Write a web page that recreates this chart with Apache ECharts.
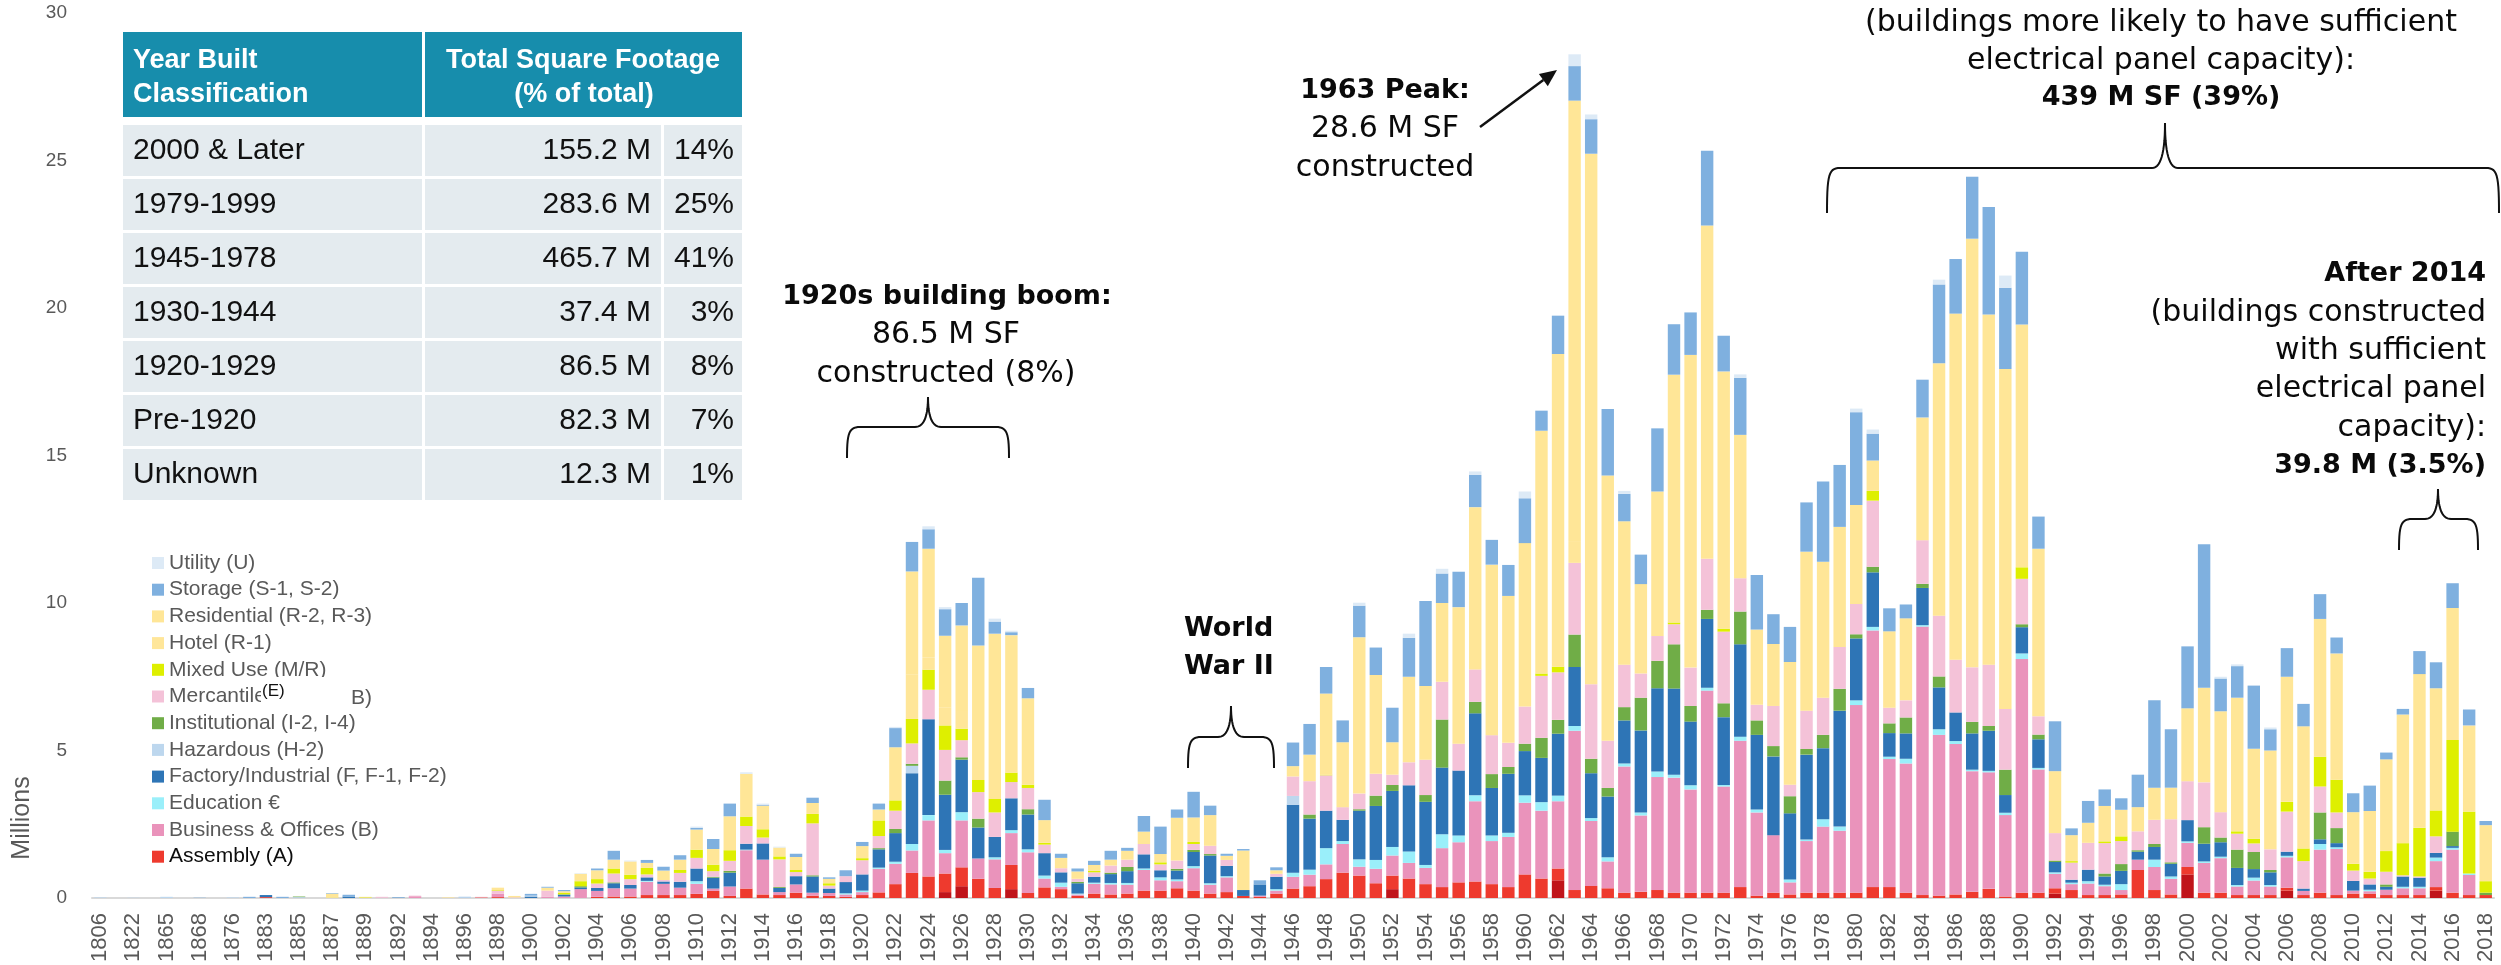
<!DOCTYPE html>
<html>
<head>
<meta charset="utf-8">
<script src="https://cdn.jsdelivr.net/npm/echarts@6.0.0/dist/echarts.min.js"></script>
<style>
  html, body { margin: 0; padding: 0; background: #ffffff; }
  #chart { width: 2501px; height: 965px; }
</style>
</head>
<body>
<div id="chart"></div>
<script>
// Year-built categories (x axis)
const categories = [
  '1806','1812','1822','1850','1865','1867','1868','1872','1876','1880',
  '1883','1884','1885','1886','1887','1888','1889','1890','1892','1893',
  '1894','1895','1896','1897','1898','1899','1900','1901','1902','1903',
  '1904','1905','1906','1907','1908','1909','1910','1911','1912','1913',
  '1914','1915','1916','1917','1918','1919','1920','1921','1922','1923',
  '1924','1925','1926','1927','1928','1929','1930','1931','1932','1933',
  '1934','1935','1936','1937','1938','1939','1940','1941','1942','1943',
  '1944','1945','1946','1947','1948','1949','1950','1951','1952','1953',
  '1954','1955','1956','1957','1958','1959','1960','1961','1962','1963',
  '1964','1965','1966','1967','1968','1969','1970','1971','1972','1973',
  '1974','1975','1976','1977','1978','1979','1980','1981','1982','1983',
  '1984','1985','1986','1987','1988','1989','1990','1991','1992','1993',
  '1994','1995','1996','1997','1998','1999','2000','2001','2002','2003',
  '2004','2005','2006','2007','2008','2009','2010','2011','2012','2013',
  '2014','2015','2016','2017','2018'
];

// Square footage by occupancy type, millions of SF per year
const assemblyDark = [
  0,0,0,0,0,0,0,0,0,0, 0,0,0,0,0,0,0,0,0,0, 0,0,0,0,0,0,0,0,0,0, 0,0,0,0,0,0,0,0,0,0,
  0,0,0,0,0,0,0,0,0,0, 0,.2,.4,0,0,.3,0,0,0,0, 0,0,0,0,0,0,0,0,0,0, 0,0,0,0,0,0,0,0,.3,0,
  0,0,0,0,0,0,0,0,.6,0, 0,0,0,0,0,0,0,0,0,0, 0,0,0,0,0,0,0,0,0,0, 0,0,0,0,0,0,0,0,.15,0,
  0,0,0,0,0,0,.8,0,0,0, 0,0,.25,0,0,0,0,0,0,0, 0,.25,0,0,0
];
const assembly = [
  0,0,0,0,0,0,0,0,0,0, .03,0,0,0,0,0,0,0,0,0, 0,0,0,.02,.03,0,0,0,0,0, .04,.05,.05,.1,.1,.1,.14,.24,.07,.32,
  .12,.1,.18,.08,.07,.04,.1,.19,.47,.85, .73,.63,.64,.65,.34,.82,.17,.36,.3,.07, .15,.12,.15,.25,.25,.33,.25,.15,.2,.07, .04,.15,.32,.4,.64,.86,.76,.5,.46,.66,
  .47,.37,.53,.56,.47,.37,.8,.66,.4,.27, .41,.33,.18,.21,.27,.18,.18,.18,.18,.37, .08,.18,.12,.18,.18,.18,.18,.37,.37,.18, .1,.08,.12,.21,.31,.05,.18,.18,.18,.27,
  .1,.1,.12,.95,.27,.12,.25,.18,.18,.1, .1,.1,.1,.1,.18,.1,.15,.15,.1,.1, .1,.12,.18,.1,.1
];
const business = [
  0,0,0,0,0,0,0,0,0,0, 0,0,0,0,0,0,0,.01,0,.06, 0,0,0,0,.12,0,0,.05,.05,.3, .2,.28,.27,.45,.38,.25,.34,.08,.32,1.3,
  1.18,.1,.28,.1,.1,.08,.1,.8,.69,.76, 1.9,.69,1.59,.69,.97,1.08,1.38,.3,.08,.05, .33,.34,.3,.7,.35,.24,.76,.3,.5,0, .04,.1,.4,.39,.5,.97,.3,.49,.68,.53,
  .55,1.32,1.36,2.72,1.46,1.7,2.43,2.3,2.28,5.4, 2.2,.91,4.28,2.59,3.83,3.9,3.5,6.85,3.6,4.96, 2.82,1.95,.41,1.75,2.24,2.1,6.36,8.7,4.34,4.38, 9.1,5.45,5.1,4.09,3.95,2.76,7.92,4.18,.49,.2,
  .39,.3,.15,.35,.78,.53,.82,1.01,1.17,.29, .49,.29,1.03,.14,1.46,1.56,.1,.08,.18,.23, .23,.88,1.46,.68,0
];
const education = [
  0,0,0,0,0,0,0,0,0,0, 0,0,0,0,0,0,0,0,0,0, 0,0,0,0,0,0,0,0,0,0, 0,0,0,.03,0,0,.09,0,0,.02,
  0,0,0,0,0,.04,.05,.04,.07,.22, .18,.11,.28,0,.07,.1,.1,.1,.14,.03, .04,.05,.06,.05,.1,.06,.07,.05,.04,0, 0,.05,.14,.17,.55,.1,.25,.3,.29,.39,
  .1,.47,.23,.2,.19,.14,.25,.29,.19,.16, .1,.14,.1,.1,.19,.1,.14,.1,.05,.14, .1,0,.1,.05,.25,.14,.16,.12,.08,.16, .05,.19,.1,.05,.05,.08,.19,.05,.05,.05,
  .08,.05,.2,0,.25,.08,.05,.05,.05,.05, .1,.05,.05,0,.19,.06,0,.05,0,.05, .05,.12,.06,.05,0
];
const factory = [
  0,0,0,0,0,0,0,0,0,0, .07,0,0,0,0,.05,0,0,.01,0, 0,0,0,0,0,0,.05,0,.07,.06, .1,.17,.12,.12,.08,.2,.43,.37,.47,.2,
  .55,.14,.28,.55,.15,.38,.55,.62,.97,2.4, 3.25,1.87,1.78,1.05,.69,1.08,1.18,.76,.35,.35, .2,.3,.4,.48,.24,.3,.48,.94,.35,.2, .38,.42,2.3,1.73,1.27,.72,1.65,1.83,1.9,2.24,
  2.14,2.26,2.2,2.78,1.61,2.0,1.5,1.5,2.1,2.0, 1.52,2.06,1.46,2.78,2.82,2.92,2.16,2.33,2.3,3.13, 2.53,2.67,2.24,2.88,2.41,3.93,2.1,1.85,.8,.86, 1.26,1.42,.97,1.23,1.36,.6,.89,.97,.35,.1,
  .39,.28,.45,.27,.43,.43,.72,.6,.49,.58, .29,.43,.14,.08,.16,.14,.33,.18,.1,.35, .31,.16,.06,0,0
];
const hazardous = [
  .02,0,.01,0,.04,0,0,0,.02,0, 0,0,.03,0,0,0,0,0,0,0, 0,0,.03,0,0,0,.03,0,0,0, 0,0,0,0,0,0,0,0,0,0,
  0,0,0,0,0,0,0,0,0,.25, 0,0,0,0,0,0,0,0,0,0, 0,0,0,0,0,0,0,0,0,0, 0,0,.3,0,0,0,0,0,0,0,
  0,0,0,0,0,0,0,0,0,0, 0,0,0,0,0,0,0,0,0,0, 0,0,0,0,0,0,0,0,0,0, 0,0,0,0,0,0,0,0,0,0,
  0,0,0,0,0,0,0,0,0,0, 0,0,0,0,0,0,0,0,0,0, 0,0,0,0,0
];
const institutional = [
  0,0,0,0,0,0,0,0,0,0, 0,0,.02,0,0,0,0,0,0,0, 0,0,0,0,0,0,0,0,0,.04, 0,.03,0,0,0,0,0,.03,.06,0,
  0,.03,0,.04,0,0,0,.04,.14,.07, 0,.48,.08,.3,0,0,.18,0,0,.05, 0,.05,.14,0,0,.06,.07,.05,0,0, 0,0,0,.14,0,0,.05,.35,.2,0,
  .23,1.63,0,.39,.47,.23,.25,.68,.47,1.1, .49,.29,.45,1.11,.93,1.5,.53,.31,.47,1.11, .49,.35,.58,.19,.45,.74,.14,.19,.33,.54, .14,.37,0,.39,.16,.86,.1,.16,.05,0,
  0,.1,.23,.05,.1,.05,0,.56,.16,.62, .58,.08,0,0,.91,.51,0,0,.08,0, 0,0,.49,0,.08
];
const mercantile = [
  0,0,0,0,0,0,0,0,0,0, 0,0,0,0,0,0,0,.03,0,.02, 0,0,0,.02,.1,.02,0,.2,0,0, .15,.3,.2,.1,.05,.3,.36,.19,.34,.6,
  .2,.94,.14,1.76,.1,.2,.48,.41,.62,.69, 1.0,1.04,.58,.9,.83,.55,.72,.29,.14,.1, .15,.24,.25,.35,.2,.28,.2,.28,.2,0, 0,.1,.66,1.13,1.2,.43,.53,.74,.35,.78,
  1.2,1.28,.91,1.1,1.32,.82,1.26,2.1,1.61,2.43, 2.53,1.6,1.44,.82,.84,.68,1.3,1.73,2.43,1.13, .53,1.36,.39,1.3,1.26,1.42,1.03,2.24,.53,.58, 1.48,2.06,1.79,1.85,2.08,2.06,1.54,.62,.93,.58,
  .91,1.03,.78,.64,.82,1.46,1.32,1.52,.86,.54, .29,.7,1.36,.93,.88,.53,.35,.2,.43,.04, .04,.56,0,0,0
];
const mixedUse = [
  0,0,0,0,0,0,0,0,0,0, 0,0,0,0,.01,0,.02,0,0,0, 0,0,0,0,.02,0,0,0,.05,.17, .15,.17,.15,.22,0,.1,.28,.22,.36,.32,
  .28,.1,.07,.32,.08,0,.07,.53,.35,.83, .68,.83,.39,.41,.46,.32,.11,.06,0,0, .05,0,0,0,.07,0,.07,0,0,0, 0,0,0,0,.02,0,0,0,0,0,
  0,0,0,0,0,0,0,.08,.19,0, 0,0,0,0,0,.06,0,0,.1,0, 0,0,0,0,0,0,0,.33,0,0, 0,0,0,0,0,0,.39,0,0,.05,
  0,.06,.16,0,0,0,0,0,0,.08, .16,0,.33,.43,1.01,1.11,.23,.23,.7,1.09, 1.65,.88,3.11,2.1,.39
];
const hotel = [
  0,0,0,0,0,0,0,0,0,0, 0,0,0,0,0,0,0,0,0,0, 0,0,0,0,0,0,0,0,0,0, 0,0,0,0,0,0,0,0,0,0,
  0,0,0,0,0,0,0,0,0,1.5, .4,.6,.6,0,0,0,0,0,0,0, 0,0,0,0,0,0,0,0,0,0, 0,0,0,0,0,0,0,0,0,0,
  0,0,0,0,0,0,0,0,0,.74, 0,0,0,0,0,0,0,0,0,0, 0,0,0,0,0,0,0,0,0,0, 0,0,0,0,0,0,0,0,0,0,
  0,0,0,0,0,0,0,0,0,0, 0,0,0,0,0,0,0,0,0,0, 0,0,0,0,0
];
const residential = [
  0,0,0,0,0,0,0,0,0,0, 0,0,0,0,.14,0,.02,0,0,0, 0,.02,0,0,.08,.05,0,.1,.06,.25, .3,.3,.45,.17,.32,.35,.68,.53,1.15,1.45,
  .8,.3,.44,.37,.15,0,.41,.37,1.8,3.5, 3.7,2.44,2.9,4.56,5.6,4.66,2.93,.77,.35,.25, .2,.2,.3,.42,.28,1.45,.83,1.04,.14,1.34, 0,.12,.35,.9,2.75,2.2,5.3,3.35,1.1,2.9,
  2.5,2.67,4.63,5.5,5.78,4.98,5.54,8.23,10.6,14.93, 17.98,8.99,4.86,3.03,4.9,8.4,10.6,11.3,8.72,4.86, 2.55,2.1,4.16,5.39,4.61,4.07,3.35,1.03,2.59,2.78, 4.16,8.56,11.73,14.53,11.87,11.52,8.23,5.68,2.1,.88,
  .68,1.2,.9,.82,1.09,1.07,2.47,3.21,3.42,4.53, 3.05,3.35,4.24,4.14,4.67,4.28,1.75,2.06,3.11,4.36, 5.21,4.14,4.47,2.92,1.9
];
const storage = [
  0,0,0,0,0,0,.01,0,0,.04, 0,.04,0,0,.02,.06,0,0,.02,0, 0,0,.01,0,0,0,.06,.03,.04,0, .06,.3,0,.1,.13,.15,.06,.34,.43,0,
  .03,0,.11,.18,.05,.2,.14,.2,.65,1.0, .66,.9,.76,2.3,.41,.1,.35,.69,.14,.1, .14,.3,.1,.53,.93,.28,.87,.32,.07,.05, .14,.1,.8,1.04,.9,.74,1.07,.93,1.17,1.32,
  2.88,1.0,1.2,1.09,.84,1.05,1.52,.68,1.3,1.17, 1.17,2.26,.93,1.0,2.14,1.71,1.44,2.53,1.21,1.93, 1.85,1.01,1.19,1.67,2.72,2.1,3.15,.91,.78,.47, 1.28,2.67,1.85,2.1,3.64,2.76,2.47,1.09,1.69,.23,
  .74,.56,.39,1.1,2.96,1.98,2.1,4.86,1.11,1.07, 2.14,.72,.97,.76,.84,.54,.64,.86,.23,.19, .78,.88,.84,.54,.14
];
const utility = [
  0,0,0,0,0,0,0,0,0,0, 0,0,0,0,0,0,0,0,0,0, 0,0,0,0,0,0,0,0,0,.02, 0,0,.03,0,0,0,.04,0,0,.05,
  .04,.03,0,0,0,0,0,0,.04,0, .1,.07,0,0,.1,.05,0,0,0,0, 0,0,0,0,0,0,0,0,0,0, 0,0,0,0,0,0,.1,0,0,.14,
  0,.16,0,.12,0,0,.23,0,0,.4, .16,0,.1,0,0,0,0,0,0,.12, 0,0,0,0,0,0,.12,.14,0,0, 0,.16,0,0,0,.41,0,0,0,0,
  0,0,0,0,0,0,0,0,.06,.06, 0,.06,0,0,0,0,0,0,0,0, 0,0,0,0,0
];

// Summary table
const tableLabels = ['2000 & Later', '1979-1999', '1945-1978', '1930-1944', '1920-1929', 'Pre-1920', 'Unknown'];
const tableValues = ['155.2 M', '283.6 M', '465.7 M', '37.4 M', '86.5 M', '82.3 M', '12.3 M'];
const tablePercents = ['14%', '25%', '41%', '3%', '8%', '7%', '1%'];

// Y axis ticks
const yMin = 0, yMax = 30, yStep = 5;

// Stack order from the axis upward
const seriesDefs = [
  { name: 'Assembly (A-1)', data: assemblyDark, color: '#C0141A' },
  { name: 'Assembly (A)', data: assembly, color: '#EE3A2E' },
  { name: 'Business & Offices (B)', data: business, color: '#EA93BB' },
  { name: 'Education €', data: education, color: '#9AEFFA' },
  { name: 'Factory/Industrial (F, F-1, F-2)', data: factory, color: '#2E75B6' },
  { name: 'Hazardous (H-2)', data: hazardous, color: '#BDD7EE' },
  { name: 'Institutional (I-2, I-4)', data: institutional, color: '#70AD47' },
  { name: 'Mercantile', data: mercantile, color: '#F4C2D8' },
  { name: 'Mixed Use (M/R)', data: mixedUse, color: '#DEEF00' },
  { name: 'Hotel (R-1)', data: hotel, color: '#FFE699' },
  { name: 'Residential (R-2, R-3)', data: residential, color: '#FFE697' },
  { name: 'Storage (S-1, S-2)', data: storage, color: '#7FB0DF' },
  { name: 'Utility (U)', data: utility, color: '#DDEAF6' }
];

const legendOrder = [
  'Utility (U)', 'Storage (S-1, S-2)', 'Residential (R-2, R-3)', 'Hotel (R-1)',
  'Mixed Use (M/R)', 'Mercantile', 'Institutional (I-2, I-4)', 'Hazardous (H-2)',
  'Factory/Industrial (F, F-1, F-2)', 'Education €', 'Business & Offices (B)', 'Assembly (A)'
];

const SANS = '"Liberation Sans", Arial, sans-serif';
const ANNO = '"DejaVu Sans", sans-serif';

// ---- summary table drawn as graphic cells ----
const tableGraphics = [];
const tX0 = 123, tC1 = 422, tC2a = 425, tC2b = 661, tC3 = 664, tX1 = 742;
const headFill = '#178DAC', cellFill = '#E4EBEF';
tableGraphics.push(
  { type: 'rect', shape: { x: tX0, y: 32, width: tC1 - tX0, height: 85 }, style: { fill: headFill } },
  { type: 'rect', shape: { x: tC2a, y: 32, width: tX1 - tC2a, height: 85 }, style: { fill: headFill } },
  { type: 'text', style: { text: 'Year Built', x: 133, y: 61, textVerticalAlign: 'middle', font: 'bold 27px ' + SANS, fill: '#ffffff' } },
  { type: 'text', style: { text: 'Classification', x: 133, y: 95, textVerticalAlign: 'middle', font: 'bold 27px ' + SANS, fill: '#ffffff' } },
  { type: 'text', style: { text: 'Total Square Footage', x: 583, y: 61, textAlign: 'center', textVerticalAlign: 'middle', font: 'bold 27px ' + SANS, fill: '#ffffff' } },
  { type: 'text', style: { text: '(% of total)', x: 584, y: 95, textAlign: 'center', textVerticalAlign: 'middle', font: 'bold 27px ' + SANS, fill: '#ffffff' } }
);
tableLabels.forEach((label, k) => {
  const top = 125 + k * 54, h = 51, cy = top + h / 2;
  tableGraphics.push(
    { type: 'rect', shape: { x: tX0, y: top, width: tC1 - tX0, height: h }, style: { fill: cellFill } },
    { type: 'rect', shape: { x: tC2a, y: top, width: tC2b - tC2a, height: h }, style: { fill: cellFill } },
    { type: 'rect', shape: { x: tC3, y: top, width: tX1 - tC3, height: h }, style: { fill: cellFill } },
    { type: 'text', style: { text: label, x: 133, y: cy, textVerticalAlign: 'middle', font: '30px ' + SANS, fill: '#111111' } },
    { type: 'text', style: { text: tableValues[k], x: 651, y: cy, textAlign: 'right', textVerticalAlign: 'middle', font: '30px ' + SANS, fill: '#111111' } },
    { type: 'text', style: { text: tablePercents[k], x: 734, y: cy, textAlign: 'right', textVerticalAlign: 'middle', font: '30px ' + SANS, fill: '#111111' } }
  );
});

// ---- annotation helpers ----
function cubicPts(p0, p1, p2, p3, n) {
  const out = [];
  for (let k = 1; k <= n; k++) {
    const t = k / n, u = 1 - t;
    out.push([
      u * u * u * p0[0] + 3 * u * u * t * p1[0] + 3 * u * t * t * p2[0] + t * t * t * p3[0],
      u * u * u * p0[1] + 3 * u * u * t * p1[1] + 3 * u * t * t * p2[1] + t * t * t * p3[1]
    ]);
  }
  return out;
}
function quadPts(p0, p1, p2, n) {
  const out = [];
  for (let k = 1; k <= n; k++) {
    const t = k / n, u = 1 - t;
    out.push([
      u * u * p0[0] + 2 * u * t * p1[0] + t * t * p2[0],
      u * u * p0[1] + 2 * u * t * p1[1] + t * t * p2[1]
    ]);
  }
  return out;
}
// Curly brace opening downward: ends at yb, bar at yh, spike up to yt at xc
function braceElement(x0, x1, xc, yh, yb, yt) {
  const r = 13, t = 13, n = 14;
  let pts = [[x0, yb]];
  pts = pts.concat(cubicPts([x0, yb], [x0, yh + 6], [x0 + 2, yh], [x0 + r, yh], n));
  pts.push([xc - t, yh]);
  pts = pts.concat(quadPts([xc - t, yh], [xc, yh], [xc, yt], n));
  pts = pts.concat(quadPts([xc, yt], [xc, yh], [xc + t, yh], n));
  pts.push([x1 - r, yh]);
  pts = pts.concat(cubicPts([x1 - r, yh], [x1 - 2, yh], [x1, yh + 6], [x1, yb], n));
  return { type: 'polyline', z: 50, shape: { points: pts }, style: { stroke: '#111111', lineWidth: 2, fill: null } };
}
function textLine(text, x, y, bold, align, size) {
  return {
    type: 'text', z: 50,
    style: {
      text: text, x: x, y: y, textAlign: align || 'center', textVerticalAlign: 'middle',
      font: (bold ? 'bold ' : '') + (size || (bold ? 27 : 30)) + 'px ' + ANNO, fill: '#0a0a0a'
    }
  };
}
function arrowElements(x1, y1, x2, y2) {
  const dx = x2 - x1, dy = y2 - y1, len = Math.hypot(dx, dy);
  const ux = dx / len, uy = dy / len, nx = -uy, ny = ux;
  const hl = 17, hw = 7.5;
  const bx = x2 - ux * hl, by = y2 - uy * hl;
  return [
    { type: 'line', z: 50, shape: { x1: x1, y1: y1, x2: bx, y2: by }, style: { stroke: '#111111', lineWidth: 2.5 } },
    { type: 'polygon', z: 50, shape: { points: [[x2, y2], [bx + nx * hw, by + ny * hw], [bx - nx * hw, by - ny * hw]] }, style: { fill: '#111111' } }
  ];
}

const annotationGraphics = [
  // 1920s building boom
  textLine('1920s building boom:', 947, 297, true),
  textLine('86.5 M SF', 946, 335, false),
  textLine('constructed (8%)', 946, 374, false),
  braceElement(847, 1009, 928, 427, 458, 397),
  // World War II
  textLine('World', 1184, 629, true, 'left'),
  textLine('War II', 1184, 667, true, 'left'),
  braceElement(1188, 1274, 1231, 737, 768, 706),
  // 1963 peak
  textLine('1963 Peak:', 1385, 91, true),
  textLine('28.6 M SF', 1385, 129, false),
  textLine('constructed', 1385, 168, false)
].concat(arrowElements(1480, 127, 1557, 70)).concat([
  // 1979-1999 block
  textLine('(buildings more likely to have sufficient', 2161, 23, false),
  textLine('electrical panel capacity):', 2161, 61, false),
  textLine('439 M SF (39%)', 2161, 98, true),
  braceElement(1827, 2499, 2165, 168, 213, 123),
  // After 2014
  textLine('After 2014', 2486, 274, true, 'right'),
  textLine('(buildings constructed', 2486, 313, false, 'right'),
  textLine('with sufficient', 2486, 351, false, 'right'),
  textLine('electrical panel', 2486, 389, false, 'right'),
  textLine('capacity):', 2486, 428, false, 'right'),
  textLine('39.8 M (3.5%)', 2486, 466, true, 'right'),
  braceElement(2399, 2478, 2438, 519, 550, 489),
  // Axis title
  {
    type: 'text', x: 22, y: 818, rotation: Math.PI / 2,
    style: { text: 'Millions', textAlign: 'center', textVerticalAlign: 'middle', font: '25px ' + SANS, fill: '#595959' }
  },
  // Legend label overlay on the Mercantile row
  { type: 'rect', z: 100, shape: { x: 261, y: 677, width: 85, height: 34 }, style: { fill: '#ffffff' } },
  { type: 'text', z: 101, style: { text: '(E)', x: 262, y: 691, textVerticalAlign: 'middle', font: '17px ' + SANS, fill: '#111111' } },
  { type: 'text', z: 101, style: { text: 'B)', x: 351, y: 698, textVerticalAlign: 'middle', font: '21px ' + SANS, fill: '#595959' } }
]);

const chart = echarts.init(document.getElementById('chart'), null, { renderer: 'canvas' });

chart.setOption({
  animation: false,
  backgroundColor: '#ffffff',
  grid: { left: 92, right: 7, top: 13, bottom: 67, containLabel: false },
  xAxis: {
    type: 'category',
    data: categories,
    axisLine: { show: true, lineStyle: { color: '#D9D9D9', width: 2 } },
    axisTick: { show: false },
    axisLabel: {
      interval: 1, rotate: 90, margin: 15,
      fontFamily: 'Liberation Sans', fontSize: 22, color: '#595959'
    },
    splitLine: { show: false }
  },
  yAxis: {
    type: 'value', min: yMin, max: yMax, interval: yStep,
    axisLine: { show: false }, axisTick: { show: false },
    splitLine: { show: false },
    axisLabel: { margin: 25, fontFamily: 'Liberation Sans', fontSize: 19, color: '#595959' }
  },
  legend: {
    orient: 'vertical', left: 152, top: 552, padding: 0,
    itemWidth: 12, itemHeight: 12, itemGap: 4.7, icon: 'rect',
    selectedMode: false,
    textStyle: { fontFamily: 'Liberation Sans', fontSize: 21, color: '#595959', lineHeight: 22 },
    data: legendOrder.map(n => n === 'Assembly (A)' ? { name: n, textStyle: { color: '#0d0d0d' } } : { name: n })
  },
  series: seriesDefs.map(s => ({
    type: 'bar',
    name: s.name,
    stack: 'sf',
    data: s.data,
    barWidth: '75%',
    itemStyle: { color: s.color },
    emphasis: { disabled: true }
  })),
  graphic: { elements: tableGraphics.concat(annotationGraphics) }
});
</script>
</body>
</html>
